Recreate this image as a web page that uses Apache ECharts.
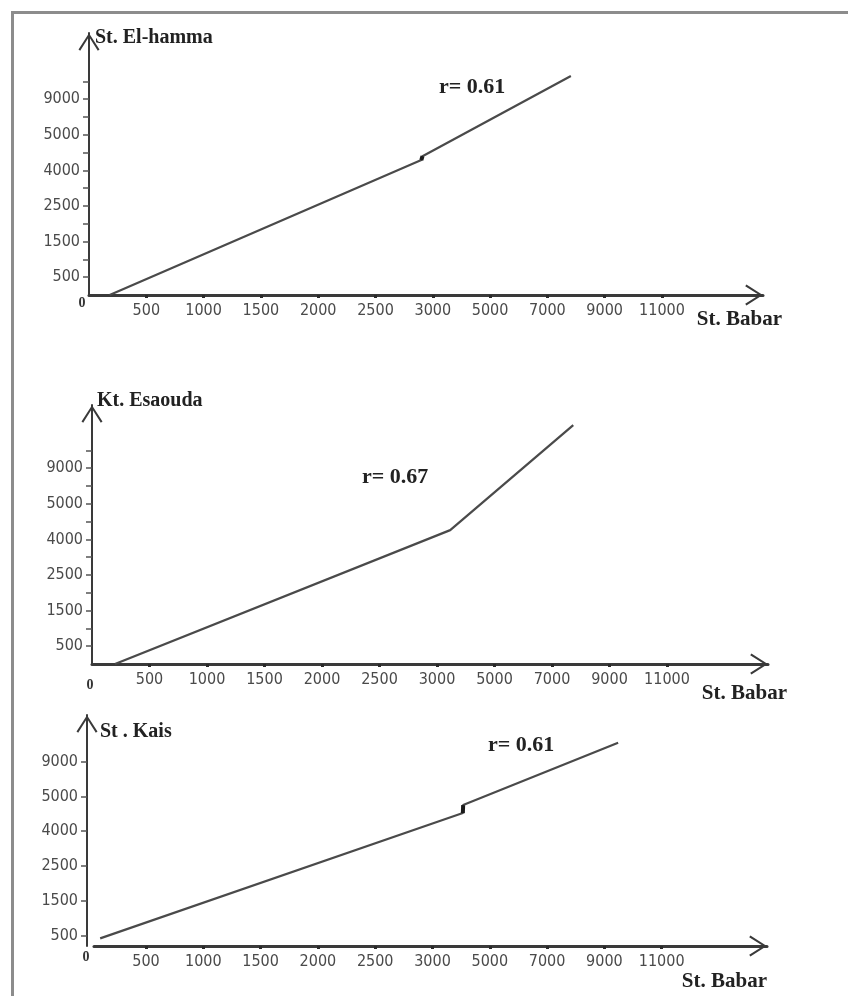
<!DOCTYPE html>
<html>
<head>
<meta charset="utf-8">
<script src="https://cdn.jsdelivr.net/npm/echarts@6/dist/echarts.min.js"></script>
<style>
  html, body { margin: 0; padding: 0; background: #fff; }
  #chart { width: 848px; height: 996px; }
  #frame {
    position: absolute; left: 11px; top: 11px; right: 0; bottom: 0;
    border-top: 3px solid #8c8c8c; border-left: 3px solid #8c8c8c;
    pointer-events: none;
  }
</style>
</head>
<body>
<div id="chart"></div>
<div id="frame"></div>
<script>
// Tick values printed on the axes (St. Babar on x, the paired station on y)
const xTickValues = [0, 500, 1000, 1500, 2000, 2500, 3000, 5000, 7000, 9000, 11000];
const yTickValues = [0, 500, 1500, 2500, 4000, 5000, 9000];

// Regression lines: St. Babar value -> station value
const elHammaX = [180, 2900, 2910, 7820];
const elHammaY = [0, 4290, 4400, 11600];
const esaoudaX = [200, 3460, 7740];
const esaoudaY = [0, 4260, 13840];
const kaisX = [100, 4060, 4070, 9480];
const kaisY = [420, 4520, 4750, 11160];

const stationNames = ['St. El-hamma', 'Kt. Esaouda', 'St . Kais'];
const correlations = ['r= 0.61', 'r= 0.67', 'r= 0.61'];
const xAxisName = 'St. Babar';

// The tick labels are spaced evenly, so a value is placed linearly
// between its two neighbouring ticks (extrapolated past the last one).
function piecewise(ticks, slots) {
  return function (v) {
    const n = ticks.length;
    for (let i = 1; i < n; i++) {
      if (v <= ticks[i] || i === n - 1) {
        const t = (v - ticks[i - 1]) / (ticks[i] - ticks[i - 1]);
        return slots[i - 1] + t * (slots[i] - slots[i - 1]);
      }
    }
  };
}
const xSlots = xTickValues.map((_, i) => i);
const ySlots = yTickValues.map((_, i) => (i === 0 ? 0 : i - 0.5));
const toX = piecewise(xTickValues, xSlots);
const toY = piecewise(yTickValues, ySlots);

const chevron = 'path://M10.5,0 L21,16.4 L19.3,17.6 L10.5,3.6 L1.7,17.6 L0,16.4 Z';
const labelFont = '"DejaVu Sans Condensed", "DejaVu Sans", sans-serif';
const serif = '"Liberation Serif", "Times New Roman", serif';

// Layout of the three stacked panels
const panels = [
  { xs: elHammaX, ys: elHammaY, step: [1, 2],
    grid: { left: 89, top: 33, width: 674, height: 262 },
    xMin: 0, xMax: 11.763, yMin: 0, yMax: 7.36, minor: true, yOffset: 0,
    nameGap: -5, namePad: 6, bGap: 19, bPad: 14,
    zero: [82, 303], rPos: [439, 87] },
  { xs: esaoudaX, ys: esaoudaY, step: null,
    grid: { left: 92, top: 405, width: 676, height: 259 },
    xMin: 0, xMax: 11.757, yMin: 0, yMax: 7.275, minor: true, yOffset: 0,
    nameGap: 4, namePad: 5, bGap: 19, bPad: 19,
    zero: [90, 685], rPos: [362, 477] },
  { xs: kaisX, ys: kaisY, step: [1, 2],
    grid: { left: 94, top: 715, width: 673, height: 231 },
    xMin: 0.0925, xMax: 11.838, yMin: 0.2, yMax: 6.838, minor: false, yOffset: 7,
    nameGap: -17, namePad: 13, bGap: 0, bPad: 25,
    zero: [86, 957], rPos: [488, 745] }
];

const grids = [], xAxes = [], yAxes = [], series = [], graphics = [];

panels.forEach((p, i) => {
  grids.push(Object.assign({ containLabel: false, outerBoundsMode: 'none' }, p.grid));

  xAxes.push({
    type: 'value', gridIndex: i, min: p.xMin, max: p.xMax,
    axisLine: {
      show: true, onZero: false,
      lineStyle: { color: '#3a3a3a', width: 3 },
      symbol: ['none', chevron], symbolSize: [21, 18], symbolOffset: [0, -9]
    },
    axisTick: { show: true, customValues: xSlots.slice(1), length: 3,
      lineStyle: { color: '#2a2a2a', width: 3 } },
    axisLabel: { show: true, customValues: xSlots.slice(1),
      formatter: v => String(xTickValues[Math.round(v)]),
      margin: 8, color: '#4a4a4a', fontSize: 16, fontFamily: labelFont },
    splitLine: { show: false },
    name: xAxisName, nameLocation: 'end', nameGap: p.bGap, nameMoveOverlap: false,
    nameTextStyle: { color: '#222', fontFamily: serif, fontWeight: 'bold', fontSize: 21,
      align: 'right', verticalAlign: 'top', padding: [p.bPad, 0, 0, 0] }
  });

  const yLabelSlots = ySlots.slice(1);
  const yTickSlots = p.minor ? [0.5, 1, 1.5, 2, 2.5, 3, 3.5, 4, 4.5, 5, 5.5, 6] : yLabelSlots;
  yAxes.push({
    type: 'value', gridIndex: i, min: p.yMin, max: p.yMax, offset: p.yOffset,
    axisLine: {
      show: true, onZero: p.yOffset === 0,
      lineStyle: { color: '#3a3a3a', width: 2 },
      symbol: ['none', chevron], symbolSize: [21, 18], symbolOffset: [0, -9]
    },
    axisTick: { show: true, customValues: yTickSlots, length: 6,
      lineStyle: { color: '#555', width: 1.5 } },
    axisLabel: { show: true, customValues: yLabelSlots,
      formatter: v => String(yTickValues[Math.round(v + 0.5)]),
      margin: 9, color: '#4a4a4a', fontSize: 16, fontFamily: labelFont },
    splitLine: { show: false },
    name: stationNames[i], nameLocation: 'end', nameGap: p.nameGap, nameMoveOverlap: false,
    nameTextStyle: { color: '#222', fontFamily: serif, fontWeight: 'bold', fontSize: 20,
      align: 'left', verticalAlign: 'middle', padding: [0, 0, 0, p.namePad] }
  });

  const pts = p.xs.map((x, k) => [toX(x), toY(p.ys[k])]);
  series.push({
    type: 'line', xAxisIndex: i, yAxisIndex: i, data: pts,
    symbol: 'none', silent: true,
    lineStyle: { color: '#4a4a4a', width: 2.2 }
  });
  if (p.step) {
    // short dark step where the fitted line breaks
    series.push({
      type: 'line', xAxisIndex: i, yAxisIndex: i,
      data: p.step.map(k => pts[k]),
      symbol: 'none', silent: true,
      lineStyle: { color: '#1a1a1a', width: 4 }
    });
  }

  graphics.push({
    type: 'text', x: p.zero[0], y: p.zero[1],
    style: { text: '0', font: 'bold 14px ' + serif, fill: '#333',
      align: 'center', verticalAlign: 'middle' }
  });
  graphics.push({
    type: 'text', x: p.rPos[0], y: p.rPos[1],
    style: { text: correlations[i], font: 'bold 22px ' + serif, fill: '#222',
      align: 'left', verticalAlign: 'middle' }
  });
});

const chart = echarts.init(document.getElementById('chart'), null, { renderer: 'canvas' });
chart.setOption({
  animation: false,
  backgroundColor: '#fff',
  grid: grids,
  xAxis: xAxes,
  yAxis: yAxes,
  series: series,
  graphic: graphics
});
</script>
</body>
</html>
